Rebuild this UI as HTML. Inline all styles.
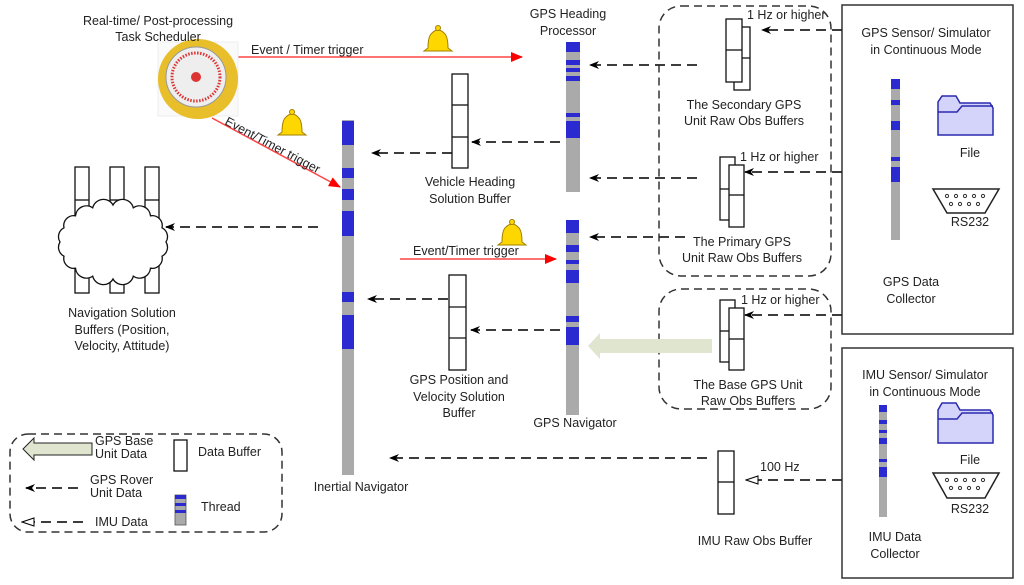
<!DOCTYPE html>
<html><head><meta charset="utf-8"><style>html,body{margin:0;padding:0;background:#fff}svg{display:block}text{font-family:"Liberation Sans",sans-serif;font-size:12.5px;fill:#222}</style></head><body>
<svg width="1024" height="585" viewBox="0 0 1024 585" xmlns="http://www.w3.org/2000/svg">
<defs>
<marker id="ab" markerWidth="10" markerHeight="8" refX="9" refY="4" orient="auto" markerUnits="userSpaceOnUse"><path d="M0,0 L10,4 L0,8 L3,4z" fill="#000"/></marker>
<marker id="ar" markerWidth="12" markerHeight="10" refX="11" refY="5" orient="auto" markerUnits="userSpaceOnUse"><path d="M0,0 L12,5 L0,10z" fill="#f00"/></marker>
<marker id="ao" markerWidth="14" markerHeight="10" refX="13" refY="5" orient="auto" markerUnits="userSpaceOnUse"><path d="M1,1 L13,5 L1,9z" fill="#fff" stroke="#000"/></marker>
<g id="bell"><path d="M-10,8 Q-10,-4 -6,-7 Q0,-13 6,-7 Q10,-4 10,8 L14,11 L-14,11z" fill="#ffd700" stroke="#a08000" stroke-width="1"/><circle cx="0" cy="-12" r="2.5" fill="#ffd700" stroke="#a08000"/></g>
</defs>
<g fill="none" stroke-linecap="butt">
<rect x="659" y="6" width="172" height="270" rx="22" stroke="#333" stroke-width="1.5" stroke-dasharray="8,5"/>
<rect x="659" y="289" width="172" height="120" rx="22" stroke="#333" stroke-width="1.5" stroke-dasharray="8,5"/>
<rect x="10" y="434" width="272" height="98" rx="18" stroke="#333" stroke-width="1.5" stroke-dasharray="8,5"/>
<rect x="842" y="5" width="171" height="329" stroke="#333" stroke-width="1.5"/>
<rect x="842" y="348" width="171" height="230" stroke="#333" stroke-width="1.5"/>
<line x1="238" y1="57" x2="522" y2="57" stroke="#f44" stroke-width="1.5" marker-end="url(#ar)"/>
<line x1="212" y1="118" x2="340" y2="187" stroke="#f44" stroke-width="1.5" marker-end="url(#ar)"/>
<line x1="400" y1="259" x2="556" y2="259" stroke="#f44" stroke-width="1.5" marker-end="url(#ar)"/>
<g stroke="#222" stroke-width="1.8" stroke-dasharray="10,6">
<line x1="318" y1="227" x2="166" y2="227" marker-end="url(#ab)"/>
<line x1="452" y1="153" x2="372" y2="153" marker-end="url(#ab)"/>
<line x1="560" y1="142" x2="472" y2="142" marker-end="url(#ab)"/>
<line x1="448" y1="299" x2="368" y2="299" marker-end="url(#ab)"/>
<line x1="560" y1="330" x2="471" y2="330" marker-end="url(#ab)"/>
<line x1="707" y1="458" x2="390" y2="458" marker-end="url(#ab)"/>
<line x1="697" y1="65" x2="590" y2="65" marker-end="url(#ab)"/>
<line x1="697" y1="178" x2="590" y2="178" marker-end="url(#ab)"/>
<line x1="685" y1="237" x2="590" y2="237" marker-end="url(#ab)"/>
<line x1="842" y1="30" x2="762" y2="30" marker-end="url(#ab)"/>
<line x1="842" y1="172" x2="745" y2="172" marker-end="url(#ab)"/>
<line x1="842" y1="315" x2="745" y2="315" marker-end="url(#ab)"/>
<line x1="842" y1="480" x2="746" y2="480" marker-end="url(#ao)"/>
<line x1="78" y1="488" x2="26" y2="488" marker-end="url(#ab)"/>
<line x1="83" y1="522" x2="22" y2="522" marker-end="url(#ao)"/>
</g>
</g>
<path d="M712,339 L600,339 L600,333 L588,346 L600,359 L600,353 L712,353z" fill="#dfe5cf" stroke="none"/>
<path d="M92,443 L34,443 L34,438 L23,449 L34,460 L34,455 L92,455z" fill="#dfe5cf" stroke="#222"/>
<rect x="158" y="42" width="80" height="74" fill="#fafafa" stroke="#eee"/>
<circle cx="198" cy="79" r="40" fill="#e8be2a"/>
<circle cx="196" cy="77" r="30" fill="#eee" stroke="#999"/>
<circle cx="196" cy="77" r="24" fill="none" stroke="#d33" stroke-width="3" stroke-dasharray="1.5,1.5"/>
<circle cx="196" cy="77" r="5" fill="#d33"/>
<use href="#bell" x="438" y="40"/><use href="#bell" x="292" y="124"/><use href="#bell" x="512" y="234"/>
<g>
<rect x="342" y="94" width="12" height="381" fill="#aaa"/>
<rect x="342" y="94" width="12" height="26" fill="#fff"/>
<g fill="#2a2ad0"><rect x="342" y="121" width="12" height="24"/><rect x="342" y="168" width="12" height="10"/><rect x="342" y="189" width="12" height="11"/><rect x="342" y="211" width="12" height="25"/><rect x="342" y="292" width="12" height="10"/><rect x="342" y="315" width="12" height="34"/></g>
<rect x="566" y="42" width="14" height="150" fill="#aaa"/>
<g fill="#2a2ad0"><rect x="566" y="42" width="14" height="10"/><rect x="566" y="60" width="14" height="5"/><rect x="566" y="68" width="14" height="4"/><rect x="566" y="76" width="14" height="5"/><rect x="566" y="113" width="14" height="4"/><rect x="566" y="121" width="14" height="17"/></g>
<rect x="566" y="220" width="13" height="195" fill="#aaa"/>
<g fill="#2a2ad0"><rect x="566" y="220" width="13" height="13"/><rect x="566" y="245" width="13" height="7"/><rect x="566" y="260" width="13" height="4"/><rect x="566" y="270" width="13" height="13"/><rect x="566" y="316" width="13" height="6"/><rect x="566" y="327" width="13" height="18"/></g>
<rect x="891" y="79" width="9" height="161" fill="#aaa"/>
<g fill="#2a2ad0"><rect x="891" y="79" width="9" height="10"/><rect x="891" y="100" width="9" height="5"/><rect x="891" y="121" width="9" height="9"/><rect x="891" y="157" width="9" height="4"/><rect x="891" y="167" width="9" height="15"/></g>
<rect x="879" y="405" width="8" height="112" fill="#aaa"/>
<g fill="#2a2ad0"><rect x="879" y="405" width="8" height="7"/><rect x="879" y="420" width="8" height="4"/><rect x="879" y="430" width="8" height="3"/><rect x="879" y="438" width="8" height="6"/><rect x="879" y="459" width="8" height="3"/><rect x="879" y="467" width="8" height="10"/></g>
<rect x="175" y="495" width="11" height="30" fill="#aaa" stroke="#555" stroke-width="0.8"/>
<g fill="#2a2ad0"><rect x="175" y="495" width="11" height="4"/><rect x="175" y="503" width="11" height="3"/><rect x="175" y="510" width="11" height="3"/></g>
</g>
<g fill="#fff" stroke="#111" stroke-width="1.3">
<rect x="452" y="74" width="16" height="94"/><line x1="452" y1="105" x2="468" y2="105"/><line x1="452" y1="137" x2="468" y2="137"/>
<rect x="449" y="275" width="17" height="95"/><line x1="449" y1="307" x2="466" y2="307"/><line x1="449" y1="338" x2="466" y2="338"/>
<rect x="734" y="27" width="16" height="63"/><line x1="734" y1="58" x2="750" y2="58"/>
<rect x="726" y="19" width="16" height="63"/><line x1="726" y1="50" x2="742" y2="50"/>
<rect x="720" y="157" width="15" height="63"/><line x1="720" y1="189" x2="735" y2="189"/>
<rect x="729" y="165" width="15" height="62"/><line x1="729" y1="195" x2="744" y2="195"/>
<rect x="720" y="300" width="15" height="62"/><line x1="720" y1="331" x2="735" y2="331"/>
<rect x="729" y="308" width="15" height="62"/><line x1="729" y1="339" x2="744" y2="339"/>
<rect x="718" y="451" width="16" height="63"/><line x1="718" y1="482" x2="734" y2="482"/>
<rect x="174" y="440" width="13" height="31"/>
<rect x="75" y="167" width="14" height="126"/><line x1="75" y1="200" x2="89" y2="200"/>
<rect x="110" y="167" width="14" height="126"/><line x1="110" y1="200" x2="124" y2="200"/>
<rect x="145" y="167" width="14" height="126"/><line x1="145" y1="200" x2="159" y2="200"/>
<path d="M166,242 A10 10 0 0 1 162,256.2 A10 10 0 0 1 150.5,268.2 A11 11 0 0 1 133.3,276.2 A11 11 0 0 1 113,279 A11 11 0 0 1 92.7,276.2 A11 11 0 0 1 75.5,268.2 A10 10 0 0 1 64,256.2 A10 10 0 0 1 60,242 A10 10 0 0 1 64,227.8 A10 10 0 0 1 75.5,215.8 A11 11 0 0 1 92.7,207.8 A11 11 0 0 1 113,205 A11 11 0 0 1 133.3,207.8 A11 11 0 0 1 150.5,215.8 A10 10 0 0 1 162,227.8 A10 10 0 0 1 166,242z"/>
</g>
<g fill="#d4d4fb" stroke="#2a2ab0" stroke-width="1.5">
<path d="M938,135 L938,102 L942,96 L956,96 L960,103 L990,103 L993,108 L993,135z"/><path d="M938,112 L957,112 L962,106 L993,106"/>
<path d="M938,443 L938,410 L942,403 L956,403 L960,410 L990,410 L993,415 L993,443z"/><path d="M938,419 L957,419 L962,413 L993,413"/>
</g>
<g fill="#fff" stroke="#222" stroke-width="1.5">
<path d="M933,189 L999,189 L985,213 L947,213z"/><path d="M933,473 L999,473 L985,498 L947,498z"/>
</g>
<g fill="none" stroke="#333"><g id="pins"><circle cx="947" cy="196" r="1.6"/><circle cx="956" cy="196" r="1.6"/><circle cx="965" cy="196" r="1.6"/><circle cx="974" cy="196" r="1.6"/><circle cx="983" cy="196" r="1.6"/><circle cx="951" cy="204" r="1.6"/><circle cx="960" cy="204" r="1.6"/><circle cx="969" cy="204" r="1.6"/><circle cx="978" cy="204" r="1.6"/></g><use href="#pins" y="284"/></g>
<g text-anchor="middle">
<text x="158" y="25">Real-time/ Post-processing</text><text x="158" y="41">Task Scheduler</text>
<text x="568" y="18">GPS Heading</text><text x="568" y="35">Processor</text>
<text x="470" y="186">Vehicle Heading</text><text x="470" y="203">Solution Buffer</text>
<text x="122" y="317">Navigation Solution</text><text x="122" y="334">Buffers (Position,</text><text x="122" y="350">Velocity, Attitude)</text>
<text x="459" y="384">GPS Position and</text><text x="459" y="401">Velocity Solution</text><text x="459" y="417">Buffer</text>
<text x="575" y="427">GPS Navigator</text>
<text x="361" y="491">Inertial Navigator</text>
<text x="744" y="109">The Secondary GPS</text><text x="744" y="125">Unit Raw Obs Buffers</text>
<text x="742" y="246">The Primary GPS</text><text x="742" y="262">Unit Raw Obs Buffers</text>
<text x="748" y="389">The Base GPS Unit</text><text x="748" y="405">Raw Obs Buffers</text>
<text x="926" y="37">GPS Sensor/ Simulator</text><text x="926" y="54">in Continuous Mode</text>
<text x="970" y="157">File</text><text x="970" y="226">RS232</text>
<text x="911" y="286">GPS Data</text><text x="911" y="303">Collector</text>
<text x="925" y="379">IMU Sensor/ Simulator</text><text x="925" y="396">in Continuous Mode</text>
<text x="970" y="464">File</text><text x="970" y="513">RS232</text>
<text x="895" y="541">IMU Data</text><text x="895" y="558">Collector</text>
<text x="755" y="545">IMU Raw Obs Buffer</text>
</g>
<text x="251" y="54">Event / Timer trigger</text>
<text x="413" y="255">Event/Timer trigger</text>
<text x="0" y="0" transform="translate(224,124) rotate(28)">Event/Timer trigger</text>
<text x="747" y="19">1 Hz or higher</text>
<text x="740" y="161">1 Hz or higher</text>
<text x="741" y="304">1 Hz or higher</text>
<text x="760" y="471">100 Hz</text>
<text x="95" y="445">GPS Base</text><text x="95" y="458">Unit  Data</text>
<text x="198" y="456">Data Buffer</text>
<text x="90" y="484">GPS Rover</text><text x="90" y="497">Unit  Data</text>
<text x="201" y="511">Thread</text>
<text x="95" y="526">IMU  Data</text>
</svg>
</body></html>
